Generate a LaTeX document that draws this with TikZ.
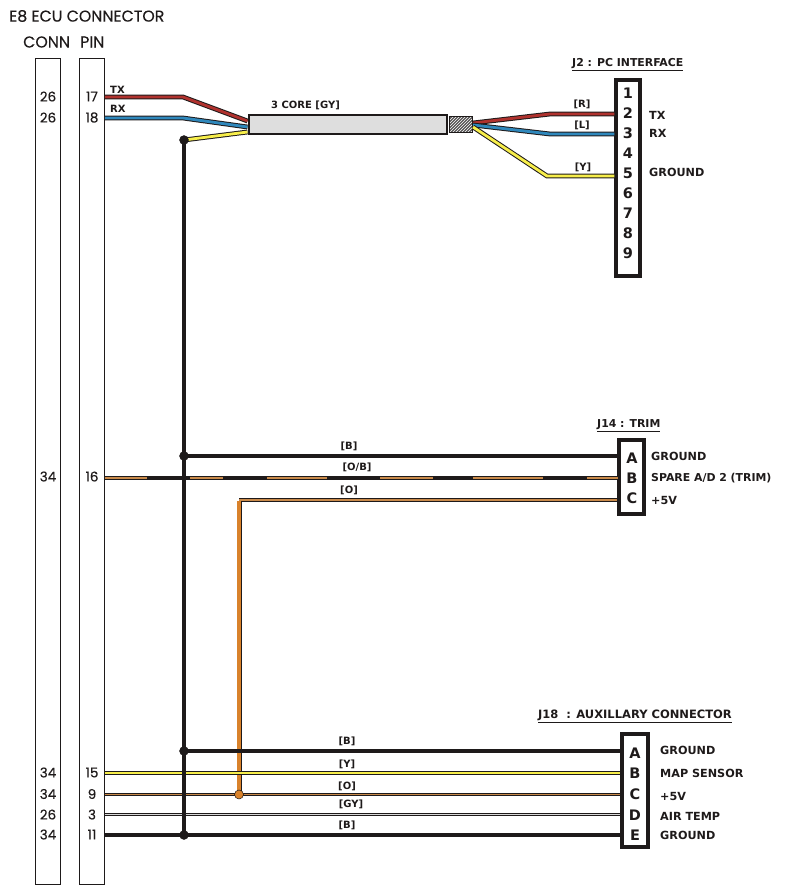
\documentclass[tikz,border=0pt]{standalone}
\usepackage{fontspec}
\setmainfont{DejaVu Sans}
\newfontfamily\geofont[FakeBold=0.2]{Poppins}
\usetikzlibrary{patterns}
\definecolor{wred}{HTML}{B0322E}
\definecolor{wblue}{HTML}{2F88BC}
\definecolor{wyel}{HTML}{F7EE4A}
\definecolor{worg}{HTML}{D9822B}
\definecolor{wbrown}{HTML}{C98A4A}
\definecolor{wgrey}{HTML}{D8D8D8}
\definecolor{ink}{HTML}{1E1A1A}
\tikzset{
  wire/.style={draw=ink,line width=4.8pt,line join=miter},
  core/.style={draw=#1,line width=2.8pt,line join=miter},
  thinout/.style={draw=ink,line width=3.4pt},
  thincore/.style={draw=#1,line width=1.5pt},
  gndwire/.style={draw=ink,line width=4pt},
  bar/.style={draw=ink,line width=1pt,fill=white,minimum width=25pt,anchor=north west,inner sep=0pt},
  conbox/.style={draw=ink,line width=3.6pt,fill=white,anchor=north west,inner sep=0pt},
  pinnum/.style={font=\geofont\fontsize{13.5}{13.5}\selectfont,text=ink,inner sep=0pt},
  head/.style={font=\geofont\fontsize{15.8}{15.8}\selectfont,text=ink,anchor=west,inner sep=0pt},
  lab/.style={font=\bfseries\fontsize{11.2}{11.2}\selectfont,text=ink,anchor=west,inner sep=0pt},
  wlab/.style={font=\bfseries\fontsize{10}{10}\selectfont,text=ink,inner sep=0pt},
  title/.style={font=\bfseries\fontsize{10.9}{10.9}\selectfont,text=ink,inner sep=0pt,anchor=west},
  letter/.style={font=\bfseries\fontsize{14.5}{14.5}\selectfont,text=ink,inner sep=0pt},
  dotb/.style={circle,fill=ink,draw=ink,minimum size=9pt,inner sep=0pt},
  doto/.style={circle,fill=worg,draw=ink,line width=.5pt,minimum size=9pt,inner sep=0pt},
}
\begin{document}
\begin{tikzpicture}[x=1pt,y=-1pt]
\useasboundingbox (0,0) rectangle (787,894);
% headers
\node[head] (h1) at (9,16) {E8 ECU CONNECTOR};
\node[head] (h2) at (23,42) {CONN};
\node[head] (h3) at (80,42) {PIN};
% bars
\node[bar,minimum height=826pt] (connbar) at (35.2,58.2) {};
\node[bar,minimum height=826pt] (pinbar) at (78.8,58.2) {};
% connector boxes
\node[conbox,minimum width=23.8pt,minimum height=196.4pt] (j2) at (614.3,78) {};
\node[conbox,minimum width=24.8pt,minimum height=74pt] (j14) at (617.3,438) {};
\node[conbox,minimum width=26.4pt,minimum height=113.4pt] (j18) at (620,732) {};
% cable
\node[draw=ink,line width=2.4pt,fill=wgrey!85,anchor=north west,minimum width=198pt,minimum height=19pt,inner sep=0pt] (cable) at (247.5,114) {};
\node[draw=ink,line width=1pt,preaction={fill=ink!75},pattern=north east lines,pattern color=white,anchor=north west,minimum width=23pt,minimum height=16pt,inner sep=0pt] (shield) at (449,116) {};
% pin coords
\foreach \n/\y in {p17/97,p18/118,p16/478,p15/773,p9/794.5,p3/814.5,p11/835}{\coordinate (\n) at (pinbar.east |- 0,\y);}
\coordinate (jtop) at (184,140);
\coordinate (b1) at (183,97); \coordinate (b2) at (183,118);
\coordinate (c1) at (cable.west |- 0,121); \coordinate (c2) at (cable.west |- 0,127); \coordinate (c3) at (cable.west |- 0,132);
\coordinate (s1) at (shield.east |- 0,123); \coordinate (s2) at (shield.east |- 0,125); \coordinate (s3) at (shield.east |- 0,127);
\coordinate (k1) at (550,114); \coordinate (k2) at (550,134); \coordinate (k3) at (547,176);
\coordinate (jA) at (184,456); \coordinate (jB) at (184,751); \coordinate (jE) at (184,835);
\coordinate (oTop) at (239,500); \coordinate (oBot) at (239,794.5);
% ECU to cable
\draw[wire] (p17) -- (b1) -- (c1);
\draw[core=wred] (p17) -- (b1) -- (c1);
\draw[wire] (p18) -- (b2) -- (c2);
\draw[core=wblue] (p18) -- (b2) -- (c2);
\draw[wire] (jtop) -- (c3);
\draw[core=wyel] (jtop) -- (c3);
% cable to J2
\draw[wire] (s1) -- (k1) -- (j2.west |- k1);
\draw[core=wred] (s1) -- (k1) -- (j2.west |- k1);
\draw[wire] (s2) -- (k2) -- (j2.west |- k2);
\draw[core=wblue] (s2) -- (k2) -- (j2.west |- k2);
\draw[wire] (s3) -- (k3) -- (j2.west |- k3);
\draw[core=wyel] (s3) -- (k3) -- (j2.west |- k3);
% J14 wires
\draw[gndwire] (jA) -- (j14.west |- jA);
\draw[thinout] (p16) -- (j14.west |- p16);
\foreach \a/\b in {104.5/147,190/223,267/327,380/433,473/543,587/618}{\draw[thincore=wbrown] (\a,478) -- (\b,478);}
\draw[thinout] (oTop) -- (j14.west |- oTop);
\draw[thincore=wbrown] (oTop) -- (j14.west |- oTop);
\draw[draw=ink,line width=5pt] (oBot) -- ([yshift=-2pt]oTop);
\draw[draw=worg,line width=3.4pt] (oBot) -- ([yshift=-.8pt]oTop);
% J18 wires
\draw[gndwire] (jB) -- (j18.west |- jB);
\draw[wire] (p15) -- (j18.west |- p15);
\draw[core=wyel] (p15) -- (j18.west |- p15);
\draw[thinout] (p9) -- (j18.west |- p9);
\draw[thincore=wbrown] (p9) -- (j18.west |- p9);
\draw[thinout] (p3) -- (j18.west |- p3);
\draw[thincore=wgrey] (p3) -- (j18.west |- p3);
\draw[gndwire] (p11) -- (j18.west |- p11);
% ground bus
\draw[gndwire] (jtop) -- (jE);
\node[dotb] (d1) at (jtop) {};
\node[dotb] (d2) at (jA) {};
\node[dotb] (d3) at (jB) {};
\node[dotb] (d4) at (jE) {};
\node[doto] (d5) at (oBot) {};
% numbers
\foreach \n/\p/\y in {26/17/96.5,26/18/117.5,34/16/476.5,34/15/772.5,34/9/794,26/3/814.5,34/11/834.5}{
  \node[pinnum] (c\p) at (48,\y) {\n};
  \node[pinnum] (n\p) at (92,\y) {\p};
}
% J2 pins
\foreach \d/\y in {1/93,2/113,3/133,4/153,5/173,6/193,7/213,8/233,9/253}{\node[letter] (jp\d) at (628,\y) {\d};}
\foreach \t/\y in {A/458,B/478,C/498}{\node[letter] (t\t) at (632,\y) {\t};}
\foreach \t/\y in {A/753,B/773,C/794,D/815,E/835}{\node[letter] (u\t) at (635,\y) {\t};}
% labels
\node[wlab,anchor=west] (ltx) at (110,90) {TX};
\node[wlab,anchor=west] (lrx) at (110,109) {RX};
\node[wlab,anchor=west] (lcore) at (271,105) {3 CORE [GY]};
\node[title] (tj2) at (572,65) {\underline{J2 : PC INTERFACE}};
\node[title] (tj14) at (597,426) {\underline{J14 : TRIM}};
\node[title,font=\bfseries\fontsize{11.5}{11.5}\selectfont] (tj18) at (538,716) {\underline{J18\ \ : AUXILLARY CONNECTOR}};
\node[wlab] (wr) at (582,104) {[R]};
\node[wlab] (wl) at (582,125) {[L]};
\node[wlab] (wy) at (583,167) {[Y]};
\node[lab] (a1) at (649,115) {TX};
\node[lab] (a2) at (649,133) {RX};
\node[lab] (a3) at (649,172) {GROUND};
\node[wlab] (e1) at (349,446) {[B]};
\node[wlab] (e2) at (357,467) {[O/B]};
\node[wlab] (e3) at (349,490) {[O]};
\node[lab] (b1l) at (651,456) {GROUND};
\node[lab,font=\bfseries\fontsize{10.9}{10.9}\selectfont] (b2l) at (651,478) {SPARE A/D 2 (TRIM)};
\node[lab] (b3l) at (651,500) {+5V};
\node[wlab] (f1) at (347,741) {[B]};
\node[wlab] (f2) at (347,764) {[Y]};
\node[wlab] (f3) at (347,786) {[O]};
\node[wlab] (f4) at (351,804) {[GY]};
\node[wlab] (f5) at (347,825) {[B]};
\node[lab] (g1) at (660,750) {GROUND};
\node[lab] (g2) at (660,773) {MAP SENSOR};
\node[lab] (g3) at (660,796) {+5V};
\node[lab] (g4) at (660,816) {AIR TEMP};
\node[lab] (g5) at (660,835) {GROUND};
\end{tikzpicture}
\end{document}
